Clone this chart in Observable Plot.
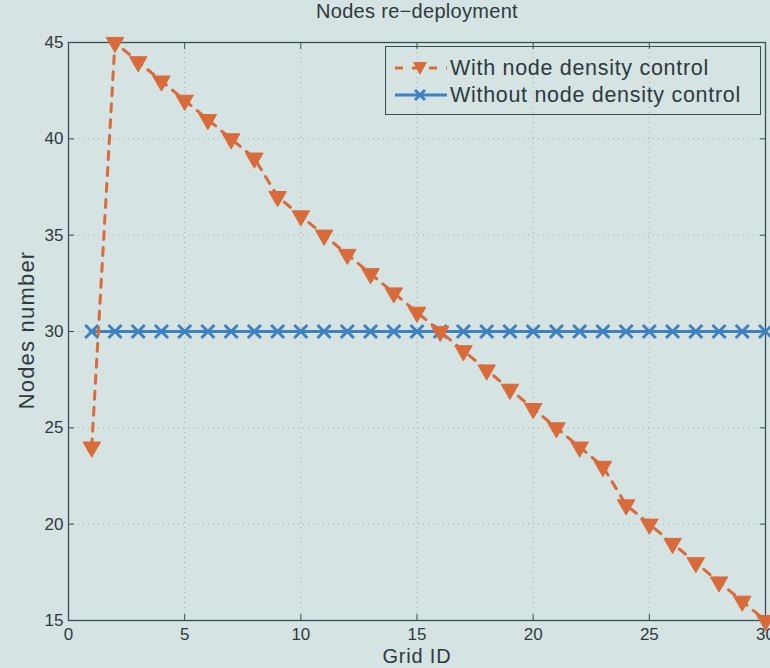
<!DOCTYPE html>
<html>
<head>
<meta charset="utf-8">
<script src="https://cdn.jsdelivr.net/npm/d3@7"></script>
<script src="https://cdn.jsdelivr.net/npm/@observablehq/plot@0.6"></script>
<style>
  html, body { margin: 0; padding: 0; background: #d5e3e3; overflow: hidden; }
  #wrap { position: relative; width: 770px; height: 668px; font-family: "Liberation Sans", Arial, sans-serif; color: #2e3a3c; }
  #title { position: absolute; left: 68px; width: 698px; top: -1px; line-height: 24px; text-align: center; font-size: 20px; letter-spacing: 0.3px; }
  #xlabel { position: absolute; left: 68px; width: 698px; top: 645px; line-height: 22px; text-align: center; font-size: 20px; letter-spacing: 0.8px; }
  #ylabel { position: absolute; left: 27px; top: 330px; transform: translate(-50%, -50%) rotate(-90deg); white-space: nowrap; font-size: 22px; letter-spacing: 1.2px; line-height: 24px; }
  #chart { position: absolute; left: 0; top: 25px; }
  #chart svg text { font-size: 17px !important; }
  #legend { position: absolute; left: 385px; top: 46px; width: 376px; height: 69px; border: 1px solid #3a4e52; box-sizing: border-box; font-size: 21.5px; letter-spacing: 0.7px; }
  .row { position: absolute; left: 6px; height: 26px; display: flex; align-items: center; white-space: nowrap; }
  .row svg { margin-right: 2px; }
</style>
</head>
<body>
<div id="wrap">
  <div id="title">Nodes re−deployment</div>
  <div id="chart"></div>
  <div id="xlabel">Grid ID</div>
  <div id="ylabel">Nodes number</div>
  <div id="legend">
    <div class="row" style="top:8px">
      <svg width="56" height="20"><line x1="3" y1="10" x2="55" y2="10" stroke="#d96b3b" stroke-width="3" stroke-dasharray="8,9"/><path d="M21,4 L35,4 L28,17 Z" fill="#d96b3b"/></svg>
      <span>With node density control</span>
    </div>
    <div class="row" style="top:35px">
      <svg width="56" height="20"><line x1="3" y1="10" x2="55" y2="10" stroke="#3f80c0" stroke-width="3"/><path d="M23,5 L33,15 M33,5 L23,15" stroke="#3f80c0" stroke-width="3"/></svg>
      <span>Without node density control</span>
    </div>
  </div>
</div>
<script>
const gridIds = d3.range(1, 31);
const withControl = [24,45,44,43,42,41,40,39,37,36,35,34,33,32,31,30,29,28,27,26,25,24,23,21,20,19,18,17,16,15];
const withoutControl = [30,30,30,30,30,30,30,30,30,30,30,30,30,30,30,30,30,30,30,30,30,30,30,30,30,30,30,30,30,30];
const xTicks = [0,5,10,15,20,25,30];
const yTicks = [15,20,25,30,35,40,45];

const dataWith = gridIds.map((g, i) => ({x: g, y: withControl[i]}));
const dataWithout = gridIds.map((g, i) => ({x: g, y: withoutControl[i]}));

const orange = "#d96b3b";
const blue = "#3f80c0";
const frameColor = "#3a4e52";

const chart = Plot.plot({
  width: 770,
  height: 643,
  marginLeft: 68,
  marginRight: 5,
  marginTop: 17,
  marginBottom: 48,
  style: {background: "transparent", fontFamily: "Liberation Sans, Arial, sans-serif", color: "#2e3a3c", fontSize: "17px"},
  x: {domain: [0, 30]},
  y: {domain: [15, 45]},
  marks: [
    Plot.gridX(xTicks.slice(1, -1), {stroke: "#8a9a9c", strokeOpacity: 0.7, strokeDasharray: "1,4"}),
    Plot.gridY(yTicks.slice(1, -1), {stroke: "#8a9a9c", strokeOpacity: 0.7, strokeDasharray: "1,4"}),
    Plot.frame({stroke: frameColor, strokeWidth: 1.3}),
    Plot.axisX(xTicks, {anchor: "bottom", tickSize: -6, tickPadding: 13, fontSize: 17, stroke: frameColor, label: null}),
    Plot.axisX(xTicks, {anchor: "top", tickSize: -6, tickFormat: () => "", label: null, stroke: frameColor}),
    Plot.axisY(yTicks, {anchor: "left", tickSize: -6, tickPadding: 11, fontSize: 17, stroke: frameColor, label: null}),
    Plot.axisY(yTicks, {anchor: "right", tickSize: -6, tickFormat: () => "", label: null, stroke: frameColor}),
    Plot.line(dataWithout, {x: "x", y: "y", stroke: blue, strokeWidth: 3}),
    Plot.dot(dataWithout, {x: "x", y: "y", symbol: "times", r: 6, stroke: blue, strokeWidth: 3}),
    Plot.line(dataWith, {x: "x", y: "y", stroke: orange, strokeWidth: 3, strokeDasharray: "8,8"}),
    Plot.dot(dataWith, {x: "x", y: "y", symbol: "triangle", rotate: 180, r: 6.5, fill: orange, stroke: orange, strokeWidth: 1})
  ]
});
chart.querySelectorAll("text").forEach(t => { t.style.fontSize = "17px"; t.style.fill = "#2e3a3c"; });
document.getElementById("chart").appendChild(chart);
</script>
</body>
</html>
